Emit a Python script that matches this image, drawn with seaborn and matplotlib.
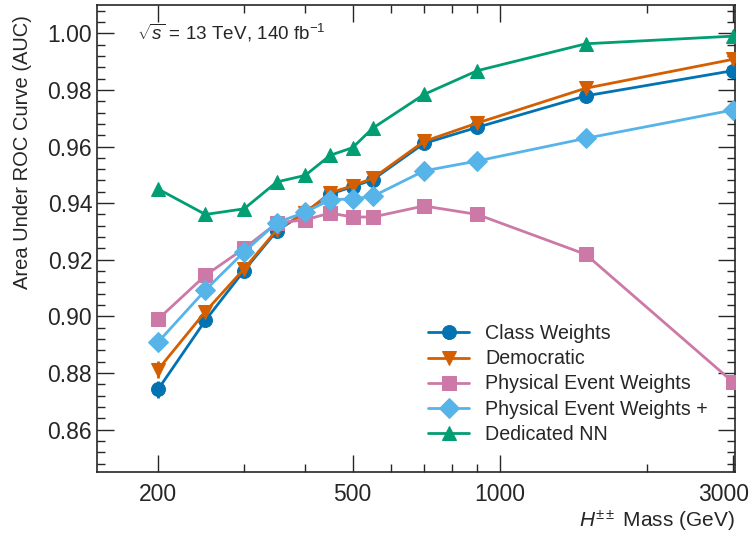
import numpy as np
import pandas as pd
import matplotlib
matplotlib.use("Agg")
import matplotlib.pyplot as plt
import matplotlib.transforms as mtransforms
import seaborn as sns
from matplotlib.ticker import AutoMinorLocator, FixedLocator, NullFormatter, FixedFormatter

masses = [200, 250, 300, 350, 400, 450, 500, 550, 700, 900, 1500, 3000]

class_weights = [0.8742, 0.8986, 0.9162, 0.9302, 0.9368, 0.9432, 0.9458, 0.9483, 0.9611, 0.9668, 0.9779, 0.9868]
democratic = [0.8812, 0.9017, 0.9168, 0.9306, 0.9365, 0.9437, 0.9461, 0.9488, 0.9618, 0.9683, 0.9806, 0.9908]
phys_weights = [0.8990, 0.9145, 0.9240, 0.9330, 0.9341, 0.9365, 0.9351, 0.9351, 0.9390, 0.9360, 0.9219, 0.8768]
phys_weights_plus = [0.8909, 0.9093, 0.9228, 0.9331, 0.9368, 0.9412, 0.9415, 0.9424, 0.9514, 0.9549, 0.9629, 0.9729]
dedicated_nn = [0.9450, 0.9360, 0.9380, 0.9475, 0.9498, 0.9569, 0.9596, 0.9665, 0.9784, 0.9868, 0.9963, 0.9990]

err_class = [0.0030, 0.0015, 0.0012, 0.0010, 0.0010, 0.0010, 0.0010, 0.0012, 0.0015, 0.0015, 0.0020, 0.0025]
err_dem = [0.0030, 0.0015, 0.0012, 0.0010, 0.0010, 0.0010, 0.0010, 0.0012, 0.0015, 0.0015, 0.0020, 0.0020]
err_phys = [0.0025, 0.0012, 0.0010, 0.0010, 0.0010, 0.0010, 0.0010, 0.0012, 0.0015, 0.0015, 0.0018, 0.0012]
err_plus = [0.0020, 0.0012, 0.0010, 0.0010, 0.0010, 0.0010, 0.0010, 0.0010, 0.0010, 0.0010, 0.0010, 0.0015]
err_nn = [0.0005] * 12

labels = ["Class Weights", "Democratic", "Physical Event Weights", "Physical Event Weights +", "Dedicated NN"]
colors = ["#0173B2", "#D55E00", "#CC79A7", "#56B4E9", "#029E73"]
markers = ["o", "v", "s", "D", "^"]
msizes = [10, 10, 9.5, 10, 10]

series = [class_weights, democratic, phys_weights, phys_weights_plus, dedicated_nn]
errs = [err_class, err_dem, err_phys, err_plus, err_nn]

sns.set_style("ticks")
plt.rcParams['font.family'] = ['Liberation Sans', 'DejaVu Sans']
plt.rcParams['mathtext.fontset'] = 'custom'
plt.rcParams['mathtext.rm'] = 'Liberation Sans'
plt.rcParams['mathtext.it'] = 'Liberation Sans:italic'

fig = plt.figure(figsize=(7.55, 5.33), dpi=100)
ax = fig.add_axes([0.1285, 0.1144, 0.8450, 0.8762])

for lab, vals, er, c, m, ms in zip(labels, series, errs, colors, markers, msizes):
    df = pd.DataFrame({"mass": masses, "auc": vals})
    ax.errorbar(masses, vals, yerr=er, fmt="none", ecolor=c, elinewidth=2, zorder=2)
    sns.lineplot(data=df, x="mass", y="auc", ax=ax, color=c, marker=m, markersize=ms,
                 markeredgecolor=c, linewidth=2, label=lab, zorder=3)

ax.set_xscale("log")
ax.set_xlim(150, 3030)
ax.set_ylim(0.845, 1.01)

ax.xaxis.set_major_locator(FixedLocator([200, 500, 1000, 3000]))
ax.xaxis.set_major_formatter(FixedFormatter(["200", "500", "1000", "3000"]))
ax.xaxis.set_minor_locator(FixedLocator([300, 400, 600, 700, 800, 900, 2000]))
ax.xaxis.set_minor_formatter(NullFormatter())
ax.set_yticks([0.86, 0.88, 0.90, 0.92, 0.94, 0.96, 0.98, 1.00])
ax.yaxis.set_minor_locator(AutoMinorLocator(5))

ax.tick_params(which="both", direction="in", top=True, right=True, labelsize=16.5)
ax.tick_params(which="major", length=12, width=1)
ax.tick_params(which="minor", length=6, width=1)
ax.tick_params(axis="x", pad=8)
for s in ax.spines.values():
    s.set_linewidth(1.2)

# nudge the last x tick label inward so it stays inside the figure
fig.canvas.draw()
last = ax.get_xticklabels()[-1]
last.set_transform(last.get_transform() + mtransforms.ScaledTranslation(-7 / 72, 0, fig.dpi_scale_trans))

ax.set_ylabel("Area Under ROC Curve (AUC)", fontsize=14.5, loc="top")
ax.yaxis.set_label_coords(-0.102, 0.978)
ax.set_xlabel(r"$H^{\pm\pm}$ Mass (GeV)", fontsize=15, loc="right", labelpad=2)

ax.text(0.063, 0.94, r"$\sqrt{s}$ = 13 TeV, 140 fb$^{-1}$", transform=ax.transAxes,
        fontsize=13.6, va="center", ha="left")

leg = ax.legend(loc="upper left", bbox_to_anchor=(0.507, 0.333), frameon=False, fontsize=14.1,
                handlelength=2.1, labelspacing=0.31, borderaxespad=0)

fig.savefig("out.png", dpi=100)
